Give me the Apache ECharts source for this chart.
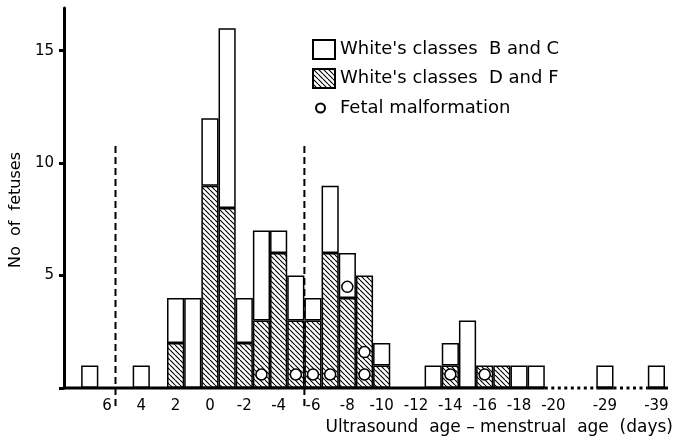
<!DOCTYPE html>
<html><head><meta charset="utf-8">
<script src="https://cdn.jsdelivr.net/npm/echarts@6/dist/echarts.min.js"></script>
<style>html,body{margin:0;padding:0;background:#fff}#c{width:676px;height:438px}</style>
</head><body><div id="c"></div>
<script>
// Day slots (ultrasound age - menstrual age); gap slots stand for the broken axis
const categories = ['8','7','6','5','4','3','2','1','0','-1','-2','-3','-4','-5','-6','-7','-8','-9','-10',
  '-11','-12','-13','-14','-15','-16','-17','-18','-19','-20','gap1','gap2','-29','gap3','gap4','-39'];
const shownTickLabels = ['6','4','2','0','-2','-4','-6','-8','-10','-12','-14','-16','-18','-20','-29','-39'];
// White's classes D and F (hatched, bottom of stack)
const classesDF = [0,0,0,0,0,0,2,0,9,8,2,3,6,3,3,6,4,5,1,
  0,0,0,1,0,1,1,0,0,0,0,0,0,0,0,0];
// White's classes B and C (open, top of stack)
const classesBC = [0,1,0,0,1,0,2,4,3,8,2,4,1,2,1,3,2,0,1,
  0,0,1,1,3,0,0,1,1,0,0,0,1,0,0,1];
// Fetal malformation markers: [day, height within stack]
const malformations = [['-3',0.6],['-5',0.6],['-6',0.6],['-7',0.6],['-8',4.5],['-9',0.6],['-9',1.6],['-14',0.6],['-16',0.6]];
// Baseline: solid and dotted (broken) stretches, by slot
const baselineSegments = [['8','-19','solid'],['-20','gap2','dotted'],['-29','-29','solid'],['gap3','gap4','dotted'],['-39','-39','solid']];
// Vertical dashed dividers drawn after these slots
const dividersAfter = ['6','-5'];
const yTicks = [5,10,15];

function hatchCanvas(){
  const s = 5;
  const c = document.createElement('canvas'); c.width = s; c.height = s;
  const g = c.getContext('2d');
  g.fillStyle = '#fff'; g.fillRect(0,0,s,s);
  g.strokeStyle = '#000'; g.lineWidth = 1.1;
  g.beginPath();
  for (let k=-1;k<=1;k++){ g.moveTo(k*s,0); g.lineTo(k*s+s,s); }
  g.stroke();
  return c;
}
const nz = a => a.map(v => v === 0 ? '-' : v);
const FONT = 'DejaVu Sans';

const lineSeries = [];
baselineSegments.forEach(([a,b,st], i) => {
  const from = categories.indexOf(a);
  let to = categories.indexOf(b) + 1;
  if (i === baselineSegments.length - 1) to += 0.6;
  lineSeries.push({
    type:'line', xAxisIndex:1, yAxisIndex:0, silent:true, clip:false, showSymbol:false, symbol:'none',
    data:[[from,0],[to,0]], z:5,
    lineStyle:{color:'#000', width:3, type: st === 'dotted' ? [3,3.5] : 'solid', cap:'butt'}
  });
});
dividersAfter.forEach(d => {
  const x = categories.indexOf(d) + 1;
  lineSeries.push({
    type:'line', xAxisIndex:1, yAxisIndex:0, silent:true, clip:false, showSymbol:false, symbol:'none',
    data:[[x,-0.8],[x,10.85]], z:1,
    lineStyle:{color:'#000', width:2, type:[7,4]}
  });
});

const chart = echarts.init(document.getElementById('c'), null, {renderer:'canvas'});
chart.setOption({
  animation:false,
  backgroundColor:'#fff',
  textStyle:{fontFamily:FONT, color:'#000'},
  grid:{left:63, right:10, top:8, bottom:50, containLabel:false},
  legend:[{
    data:["White's classes B and C","White's classes D and F"],
    orient:'vertical', left:307, top:34, itemWidth:22, itemHeight:19, itemGap:8,
    icon:'rect', selectedMode:false,
    formatter: n => n.replace('classes ', 'classes  '),
    textStyle:{fontFamily:FONT, fontSize:18, color:'#000', padding:[0,0,0,0]}
  },{
    data:['Fetal malformation'],
    orient:'vertical', left:310, top:94, itemWidth:9, itemHeight:9,
    icon:'circle', selectedMode:false,
    textStyle:{fontFamily:FONT, fontSize:18, color:'#000', padding:[0,0,0,10]}
  }],
  xAxis:[{
    type:'category', data:categories, boundaryGap:true,
    axisLine:{show:false}, axisTick:{show:false}, splitLine:{show:false},
    axisLabel:{interval:0, margin:11, fontSize:15, color:'#000', fontFamily:FONT,
      formatter: v => shownTickLabels.includes(v) ? v : ''},
    name:'Ultrasound  age – menstrual  age  (days)', nameLocation:'end', nameGap:8,
    nameTextStyle:{fontFamily:FONT, fontSize:17, color:'#000', align:'right', verticalAlign:'top', padding:[31,0,0,0]}
  },{
    type:'value', min:0, max:categories.length, show:false
  }],
  yAxis:{
    type:'value', min:0, max:16.9, interval:5,
    axisLine:{show:true, lineStyle:{color:'#000', width:3}},
    axisTick:{show:true, length:5, lineStyle:{color:'#000', width:3}},
    splitLine:{show:false},
    axisLabel:{showMaxLabel:false, margin:10, fontSize:15, color:'#000', fontFamily:FONT,
      formatter: v => yTicks.includes(v) ? String(v) : ''},
    name:'No  of  fetuses', nameLocation:'middle', nameRotate:90, nameGap:36,
    nameTextStyle:{fontFamily:FONT, fontSize:16, color:'#000', padding:[0,24,0,0]}
  },
  series:[
    {name:"White's classes D and F", type:'bar', stack:'n', data:nz(classesDF),
      barCategoryGap:0, barGap:0,
      itemStyle:{color:{image:hatchCanvas(), repeat:'repeat'}, borderColor:'#000', borderWidth:1.5}},
    {name:"White's classes B and C", type:'bar', stack:'n', data:nz(classesBC),
      barCategoryGap:0, barGap:0,
      itemStyle:{color:'#fff', borderColor:'#000', borderWidth:1.5}},
    {name:'Fetal malformation', type:'scatter', data:malformations, symbol:'circle', symbolSize:11, z:4,
      itemStyle:{color:'#fff', borderColor:'#000', borderWidth:1.5, opacity:1}},
    ...lineSeries
  ]
});
</script></body></html>
